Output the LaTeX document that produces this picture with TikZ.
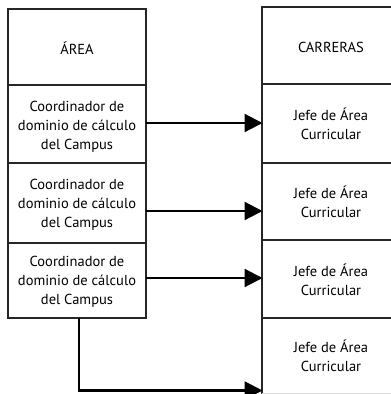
\documentclass[tikz,border=0pt]{standalone}
\usepackage{fontspec}
\setmainfont{PT Sans}
\usetikzlibrary{arrows.meta}
\begin{document}
\begin{tikzpicture}[x=1pt,y=-1pt,
  cell/.style={draw=black!85,line width=1.1pt},
  lbl/.style={align=center,font=\fontsize{14.5}{19}\selectfont,inner sep=0pt},
  conn/.style={line width=2.2pt,-{Triangle[length=18pt,width=18pt]}}]
\useasboundingbox (0,0) rectangle (391,394);
\begin{scope}
\clip (0,0) rectangle (391,394);
% left column
\draw[cell] (8,9) rectangle (146,85);
\draw[cell] (8,85) rectangle (146,163);
\draw[cell] (8,163) rectangle (146,243);
\draw[cell] (8,243) rectangle (146,318);
% right column
\draw[cell] (262,7) rectangle (400,84);
\draw[cell] (262,84) rectangle (400,163);
\draw[cell] (262,163) rectangle (400,240);
\draw[cell] (262,240) rectangle (400,318);
\draw[cell] (262,318) -- (400,318);
\draw[cell] (262,318) -- (262,394);
\draw[draw=black!15,line width=0.5pt] (262,393) -- (400,393);
\end{scope}
\node[lbl] (area) at (77,48) {ÁREA};
\node[lbl] (c1) at (77,127) {Coordinador de\\dominio de cálculo\\del Campus};
\node[lbl] (c2) at (77,205) {Coordinador de\\dominio de cálculo\\del Campus};
\node[lbl] (c3) at (77,282) {Coordinador de\\dominio de cálculo\\del Campus};
\node[lbl] (car) at (331,47) {CARRERAS};
\node[lbl] (j1) at (331,124) {Jefe de Área\\Curricular};
\node[lbl] (j2) at (331,202) {Jefe de Área\\Curricular};
\node[lbl] (j3) at (331,280) {Jefe de Área\\Curricular};
\node[lbl] (j4) at (331,356) {Jefe de Área\\Curricular};
\coordinate (s1) at (146,123);
\coordinate (e1) at (262.5,123);
\coordinate (s2) at (146,211);
\coordinate (e2) at (262.5,211);
\coordinate (s3) at (146,278);
\coordinate (e3) at (262.5,278);
\coordinate (s4) at (79,318);
\coordinate (b4) at (79,390.5);
\coordinate (e4) at (262.5,390.5);
\draw[conn] (s1) -- (e1);
\draw[conn] (s2) -- (e2);
\draw[conn] (s3) -- (e3);
\draw[conn] (s4) -- (b4) -- (e4);
\end{tikzpicture}
\end{document}
